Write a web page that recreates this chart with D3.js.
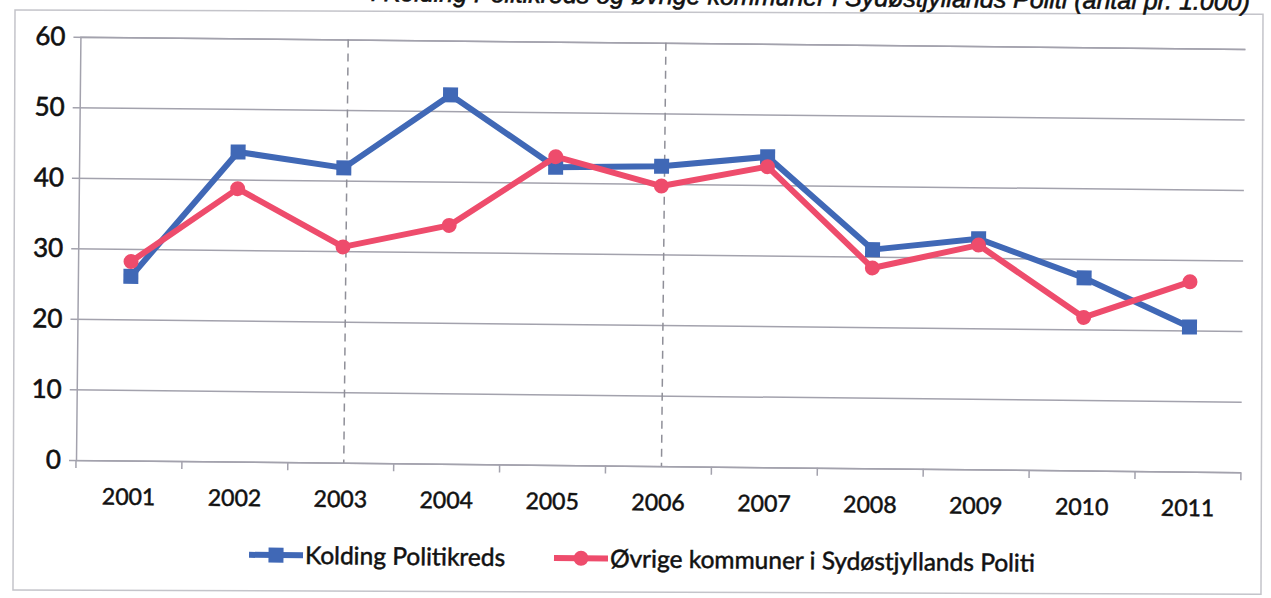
<!DOCTYPE html>
<html>
<head>
<meta charset="utf-8">
<script src="https://cdn.jsdelivr.net/npm/d3@7"></script>
<style>
  html, body { margin: 0; padding: 0; background: #fff; }
  svg { display: block; }
</style>
</head>
<body>
<svg id="chart" width="1271" height="598"></svg>
<script>
// ---- data ----
const years = ["2001","2002","2003","2004","2005","2006","2007","2008","2009","2010","2011"];
const kolding = [26.1, 43.9, 41.8, 52.3, 42.2, 42.5, 44.0, 31.0, 32.7, 27.3, 20.5];
const ovrige  = [28.2, 38.7, 30.6, 33.8, 43.7, 39.7, 42.6, 28.4, 31.8, 21.7, 26.9];
const yTicks = [0, 10, 20, 30, 40, 50, 60];
const dashedYears = ["2003", "2006"];
const seriesNames = ["Kolding Politikreds", "Øvrige kommuner i Sydøstjyllands Politi"];
const titleText = "i Kolding Politikreds og øvrige kommuner i Sydøstjyllands Politi (antal pr. 1.000)";

// ---- layout ----
const blue = "#4068b6", red = "#ee4c6c", grid = "#a3a2ad", ink = "#111";
const pLeft = 76, pRight = 1241, pTop = 36.7, pBottom = 460;

const svg = d3.select("#chart");
svg.append("rect").attr("width", 1271).attr("height", 598).attr("fill", "#fff");

// chart border (scan is only slightly skewed here)
svg.append("g").attr("transform", "rotate(0.2, 15, 300)")
  .append("rect").attr("x", 14).attr("y", 10).attr("width", 1248).attr("height", 580)
  .attr("fill", "none").attr("stroke", "#c4c4ca").attr("stroke-width", 1.5);

const g = svg.append("g").attr("transform", "rotate(0.6, 77, 460)");

// title (mostly cut off at top, as in the scan)
g.append("text").attr("x", 1245).attr("y", -2).attr("text-anchor", "end")
  .attr("font-family", "Liberation Sans, Arial, sans-serif").attr("font-size", 25)
  .attr("font-style", "italic").attr("fill", ink)
  .attr("stroke", ink).attr("stroke-width", 0.6)
  .text(titleText);

const x = d3.scaleBand().domain(years).range([pLeft, pRight]).padding(0);
const y = d3.scaleLinear().domain([0, 60]).range([pBottom, pTop]);
const cx = d => x(d) + x.bandwidth() / 2;

// gridlines + y axis
const yAxis = d3.axisLeft(y).tickValues(yTicks).tickSize(-(pRight - pLeft)).tickPadding(14);
const ya = g.append("g").attr("transform", `translate(${pLeft},0)`).call(yAxis);
ya.select(".domain").attr("stroke", grid).attr("stroke-width", 1.5);
ya.selectAll(".tick line").attr("stroke", grid).attr("stroke-width", 1.5).attr("x1", -7);
ya.selectAll(".tick text").attr("font-family", "Lato, sans-serif").attr("font-size", 26)
  .attr("fill", ink).attr("stroke", ink).attr("stroke-width", 0.6).attr("dx", "-1");

// x axis
const xAxis = d3.axisBottom(x).tickSize(0).tickPadding(28);
const xa = g.append("g").attr("transform", `translate(0,${pBottom})`).call(xAxis);
xa.select(".domain").remove();
xa.selectAll(".tick text").attr("font-family", "Lato, sans-serif").attr("font-size", 23)
  .attr("fill", ink).attr("stroke", ink).attr("stroke-width", 0.5);
// tick marks at band boundaries
g.append("g").selectAll("line").data(years.concat(["end"])).join("line")
  .attr("x1", (d, i) => pLeft + i * x.step()).attr("x2", (d, i) => pLeft + i * x.step())
  .attr("y1", pBottom).attr("y2", pBottom + 8)
  .attr("stroke", grid).attr("stroke-width", 1.5);

// dashed vertical lines
g.append("g").selectAll("line").data(dashedYears).join("line")
  .attr("x1", d => cx(d) + 3).attr("x2", d => cx(d) + 3)
  .attr("y1", y(60)).attr("y2", y(0))
  .attr("stroke", "#8f8f98").attr("stroke-width", 1.5).attr("stroke-dasharray", "8,6");

// series
const line = d3.line().x((d, i) => cx(years[i])).y(d => y(d));

g.append("path").datum(kolding).attr("d", line).attr("fill", "none")
  .attr("stroke", blue).attr("stroke-width", 6).attr("stroke-linejoin", "round");
g.append("g").selectAll("rect").data(kolding).join("rect")
  .attr("x", (d, i) => cx(years[i]) - 7.5).attr("y", d => y(d) - 7.5)
  .attr("width", 15).attr("height", 15).attr("fill", blue);

g.append("path").datum(ovrige).attr("d", line).attr("fill", "none")
  .attr("stroke", red).attr("stroke-width", 6).attr("stroke-linejoin", "round");
g.append("g").selectAll("circle").data(ovrige).join("circle")
  .attr("cx", (d, i) => cx(years[i])).attr("cy", d => y(d)).attr("r", 7.5).attr("fill", red);

// legend
const lg = g.append("g").attr("font-family", "Lato, sans-serif").attr("font-size", 24.5)
  .attr("fill", ink).attr("stroke", ink).attr("stroke-width", 0.5);
const legendItems = [
  { name: seriesNames[0], color: blue, shape: "square", x0: 250 },
  { name: seriesNames[1], color: red, shape: "circle", x0: 555 }
];
const ly = 553;
legendItems.forEach(it => {
  lg.append("line").attr("x1", it.x0).attr("x2", it.x0 + 54).attr("y1", ly).attr("y2", ly)
    .attr("stroke", it.color).attr("stroke-width", 6);
  if (it.shape === "square") {
    lg.append("rect").attr("x", it.x0 + 27 - 7.5).attr("y", ly - 7.5).attr("width", 15).attr("height", 15)
      .attr("fill", it.color).attr("stroke", "none");
  } else {
    lg.append("circle").attr("cx", it.x0 + 27).attr("cy", ly).attr("r", 7.5)
      .attr("fill", it.color).attr("stroke", "none");
  }
  lg.append("text").attr("x", it.x0 + 56).attr("y", ly).attr("dy", "0.35em").text(it.name);
});
</script>
</body>
</html>
